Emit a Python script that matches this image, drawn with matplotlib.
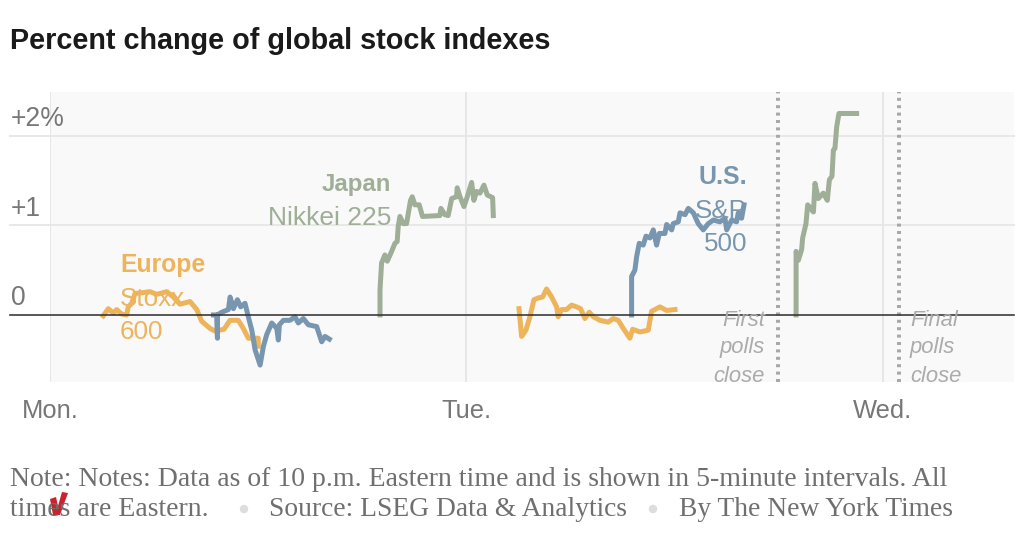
import matplotlib
matplotlib.use('Agg')
import matplotlib.pyplot as plt
from matplotlib.patches import Polygon, Ellipse

# x values are hours after Monday midnight, y values percent change
europe_mon_x = [3.07, 3.36, 3.65, 3.84, 4.13, 4.42, 4.51, 4.71, 4.90, 5.38, 5.76, 6.15, 6.73, 7.11, 7.49, 8.07, 8.46, 8.74, 9.22, 9.51, 10.03, 10.37, 10.85, 11.14, 11.43, 12.0, 12.0]
europe_mon_y = [-0.01, 0.07, 0.02, 0.06, 0.01, 0.0, 0.09, 0.13, 0.24, 0.25, 0.26, 0.23, 0.26, 0.20, 0.12, 0.15, 0.06, -0.07, -0.15, -0.18, -0.16, -0.06, -0.06, -0.15, -0.26, -0.26, -0.35]
us_mon_x = [9.42, 9.61, 9.65, 9.65, 9.90, 10.28, 10.38, 10.57, 10.80, 10.99, 11.24, 11.43, 11.63, 11.82, 12.11, 12.30, 12.49, 12.78, 13.07, 13.16, 13.22, 13.45, 13.83, 14.12, 14.31, 14.60, 14.89, 15.37, 15.66, 15.85, 16.1]
us_mon_y = [0.0, 0.0, -0.26, 0.0, 0.03, 0.06, 0.20, 0.07, 0.17, 0.09, 0.13, -0.02, -0.17, -0.39, -0.56, -0.35, -0.22, -0.09, -0.15, -0.28, -0.11, -0.06, -0.06, -0.02, -0.09, -0.04, -0.11, -0.13, -0.30, -0.24, -0.27]
japan_tue_x = [19.02, 19.02, 19.11, 19.30, 19.44, 19.69, 19.88, 20.01, 20.07, 20.17, 20.36, 20.55, 20.78, 20.88, 21.03, 21.28, 21.47, 22.47, 22.53, 22.76, 22.95, 23.15, 23.43, 23.47, 23.63, 23.86, 24.05, 24.30, 24.43, 24.59, 24.78, 25.01, 25.20, 25.51, 25.55]
japan_tue_y = [0.0, 0.28, 0.58, 0.67, 0.60, 0.71, 0.80, 0.82, 0.99, 1.10, 1.02, 1.02, 1.28, 1.32, 1.23, 1.23, 1.10, 1.11, 1.19, 1.12, 1.11, 1.30, 1.32, 1.42, 1.32, 1.21, 1.32, 1.48, 1.28, 1.38, 1.36, 1.45, 1.34, 1.31, 1.11]
europe_tue_x = [27.03, 27.18, 27.43, 27.66, 27.89, 28.14, 28.39, 28.62, 28.91, 29.2, 29.29, 29.49, 29.77, 30.06, 30.35, 30.58, 30.83, 31.08, 31.31, 31.70, 32.18, 32.46, 32.75, 33.04, 33.42, 33.58, 34.0, 34.48, 34.67, 35.15, 35.54, 36.02]
europe_tue_y = [0.07, -0.24, -0.17, -0.02, 0.17, 0.19, 0.20, 0.29, 0.20, 0.09, -0.02, 0.06, 0.06, 0.11, 0.09, 0.07, -0.04, 0.03, -0.02, -0.06, -0.08, -0.04, -0.06, -0.15, -0.26, -0.16, -0.19, -0.17, 0.04, 0.09, 0.05, 0.06]
us_tue_x = [33.52, 33.52, 33.71, 33.81, 33.96, 34.19, 34.35, 34.58, 34.77, 34.96, 35.12, 35.44, 35.54, 35.83, 35.92, 36.21, 36.31, 36.6, 36.79, 37.08, 37.36, 37.65, 37.94, 38.23, 38.61, 38.9, 39.0, 39.29, 39.57, 39.67, 39.86, 40.0]
us_tue_y = [0.0, 0.43, 0.50, 0.65, 0.80, 0.78, 0.88, 0.86, 0.95, 0.78, 0.91, 0.91, 1.01, 0.95, 1.02, 1.04, 1.14, 1.12, 1.19, 1.14, 1.02, 0.95, 1.02, 1.06, 1.04, 1.08, 0.95, 1.06, 1.04, 1.14, 1.08, 1.23]
japan_wed_x = [43.0, 43.0, 43.13, 43.32, 43.38, 43.57, 43.67, 44.0, 44.09, 44.28, 44.57, 44.8, 44.92, 45.07, 45.15, 45.24, 45.34, 45.47, 46.49]
japan_wed_y = [0.0, 0.71, 0.61, 0.73, 0.86, 1.02, 1.23, 1.15, 1.47, 1.30, 1.36, 1.28, 1.51, 1.55, 1.84, 1.86, 2.10, 2.25, 2.25]

day_ticks = [0, 24, 48]
day_labels = ['Mon.', 'Tue.', 'Wed.']
y_ticks = [0, 1, 2]
y_labels = ['0', '+1', '+2%']
poll_hours = [41.96, 48.93]

EUROPE = '#EDB45C'
JAPAN = '#9FAE97'
US = '#7896B0'
GRAY = '#777777'
W, H = 1024, 536
SANS = 'Liberation Sans'
SERIF = 'Liberation Serif'


def px(n):
    return n * 0.72


def ptext(x, y, s, **kw):
    # text placed in reference pixels
    return fig.text(x / W, 1 - y / H, s, va='center', **kw)


fig = plt.figure(figsize=(W / 100, H / 100), dpi=100, facecolor='white')
ax = fig.add_axes([50 / W, 1 - 382 / H, 964 / W, 290 / H], facecolor='#F9F9F9')
ax.set_xlim(0, 55.56)
ax.set_ylim(-0.749, 2.49)
for s in ax.spines.values():
    s.set_visible(False)
ax.set_xticks([])
ax.set_yticks([])

tr = ax.get_yaxis_transform()
for v in y_ticks[1:]:
    ax.plot([-40 / 964, 1], [v, v], transform=tr, color='#E8E8E8', lw=px(2), clip_on=False, zorder=1)
for d in day_ticks:
    ax.axvline(d, color='#E6E6E6', lw=px(2), zorder=1)
for p in poll_hours:
    ax.axvline(p, color='#A8A8A8', lw=px(4), dashes=(0.75, 1.1), zorder=2)

series = [(europe_mon_x, europe_mon_y, EUROPE), (us_mon_x, us_mon_y, US),
          (japan_tue_x, japan_tue_y, JAPAN), (europe_tue_x, europe_tue_y, EUROPE),
          (us_tue_x, us_tue_y, US), (japan_wed_x, japan_wed_y, JAPAN)]
for x, y, c in series:
    ax.plot(x, y, color=c, lw=px(5), solid_joinstyle='round', zorder=3)
ax.plot([-40 / 964, 1], [0, 0], transform=tr, color='#333333', lw=px(1.6), clip_on=False, zorder=4)

ptext(10, 41, 'Percent change of global stock indexes', family=SANS, weight='bold', fontsize=px(28.7), color='#1a1a1a')
for v, lab, y in zip(y_ticks, y_labels, [298, 209, 119]):
    ptext(11, y, lab, family=SANS, fontsize=px(26.5), color=GRAY)
for d, lab, x in zip(day_ticks, day_labels, [50, 466, 882]):
    ptext(x, 411, lab, family=SANS, fontsize=px(25.5), color=GRAY, ha='center')

ptext(120, 265, 'Europe', family=SANS, weight='bold', fontsize=px(24.7), color=EUROPE)
ptext(120, 299, 'Stoxx', family=SANS, fontsize=px(26), color=EUROPE)
ptext(120, 332, '600', family=SANS, fontsize=px(26), color=EUROPE)
ptext(391, 185, 'Japan', family=SANS, weight='bold', fontsize=px(24), color=JAPAN, ha='right')
ptext(391, 218, 'Nikkei 225', family=SANS, fontsize=px(26.4), color=JAPAN, ha='right')
ptext(747, 177, 'U.S.', family=SANS, weight='bold', fontsize=px(25), color=US, ha='right')
ptext(747, 211, 'S&P', family=SANS, fontsize=px(26), color=US, ha='right')
ptext(747, 244, '500', family=SANS, fontsize=px(26), color=US, ha='right')

for lab, y in zip(['First', 'polls', 'close'], [320, 348, 377]):
    ptext(765, y, lab, family=SANS, style='italic', fontsize=px(22), color='#ABABAB', ha='right')
for lab, y in zip(['Final', 'polls', 'close'], [320, 348, 377]):
    ptext(910, y, lab, family=SANS, style='italic', fontsize=px(22), color='#ABABAB')

NOTE = '#6F6F6F'
ptext(10, 479, 'Note: Notes: Data as of 10 p.m. Eastern time and is shown in 5-minute intervals. All', family=SERIF, fontsize=px(27.8), color=NOTE)
ptext(10, 510, 'times are Eastern.', family=SERIF, fontsize=px(27.8), color=NOTE)
ptext(269, 510, 'Source: LSEG Data & Analytics', family=SERIF, fontsize=px(27.5), color=NOTE)
ptext(679, 510, 'By The New York Times', family=SERIF, fontsize=px(27.5), color=NOTE)

# bullets, the blot over the footnote and the red check mark
for bx in [244, 653]:
    fig.add_artist(Ellipse((bx / W, 1 - 509 / H), 7 / W, 7 / H, color='#DDDDDD'))
fig.add_artist(Ellipse((38 / W, 1 - 506 / H), 22 / W, 24 / H, color='white', alpha=0.85, lw=0))
check = [(50, 499), (56, 497), (58, 506), (62, 492), (68, 493), (60, 515), (53, 515)]
fig.add_artist(Polygon([(a / W, 1 - b / H) for a, b in check], closed=True, color='#C9232D', lw=0))

fig.savefig('out.png', dpi=100)
